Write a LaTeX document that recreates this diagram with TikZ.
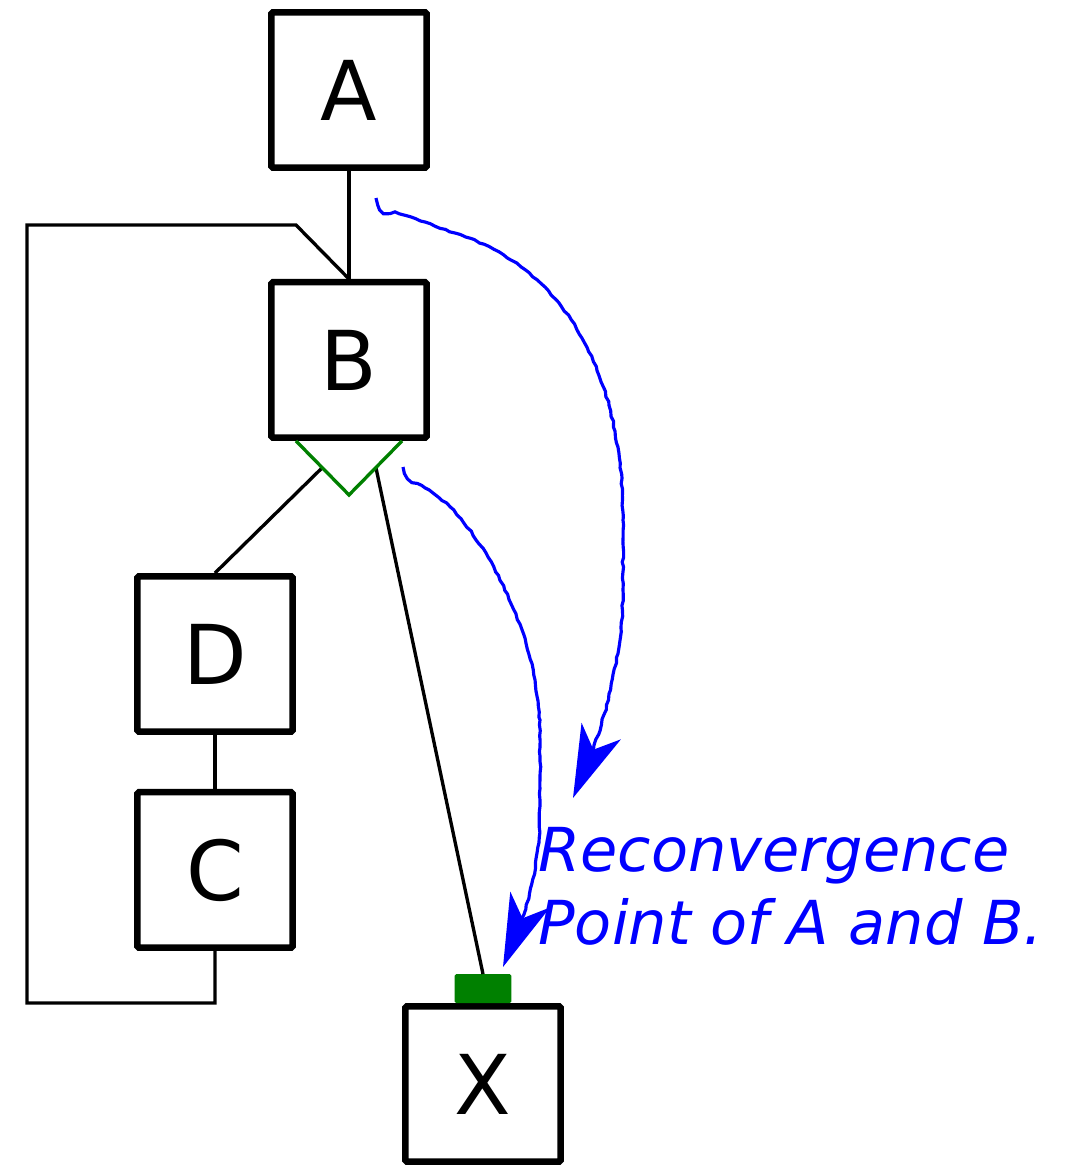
\documentclass[tikz,border=0pt]{standalone}
\usepackage{fontspec}
\setmainfont{DejaVu Sans}
\usetikzlibrary{arrows.meta,positioning,calc,decorations.pathmorphing}
\definecolor{FlowBlue}{RGB}{0,0,255}
\definecolor{SplitGreen}{RGB}{0,128,0}

\begin{document}
\begin{tikzpicture}[
    x=0.02cm, y=-0.02cm,
    node distance=2.16cm,
    blk/.style={draw,line width=3.7pt,rounded corners=1pt,minimum size=3.11cm,inner sep=0pt,font=\fontsize{47}{56}\selectfont},
    wire/.style={line width=1.9pt},
    split/.style={line width=1.9pt,draw=SplitGreen},
    flow/.style={line width=1.8pt,draw=FlowBlue,-{Stealth[length=1.45cm,width=0.85cm,inset=0.4cm]},
      decorate,decoration={random steps,segment length=3pt,amplitude=0.45pt,pre length=1pt,post length=26pt}}
  ]
  \pgfmathsetseed{11}
  \useasboundingbox (0,0) rectangle (1069,1167);

  \node[blk] (a) at (349,90) {A};
  \node[blk,below=of a] (b) {B};
  \node[blk] (d) at (215,654) {D};
  \node[blk,below=1.08cm of d] (c) {C};
  \node[blk] (x) at (483,1084) {X};
  \node[fill=SplitGreen,rounded corners=1pt,minimum width=1.14cm,minimum height=0.58cm,inner sep=0pt,outer sep=0pt,anchor=south] (xin) at (x.north) {};

  % plain edges
  \draw[wire] (a) -- (b);
  \draw[wire] (d) -- (c);
  \coordinate (loopw) at (27,1003);
  \coordinate (loopn) at (296,225);
  \draw[wire] (c.south) |- (loopw) |- (loopn) -- (b.north);

  % branch split under B
  \coordinate (bv) at ($(b.south)+(0,54)$);
  \coordinate (bl) at ($(b.south)+(-27,27)$);
  \coordinate (br) at ($(b.south)+(27,27)$);
  \draw[wire] (bl) -- (d.north);
  \draw[wire] (br) -- (xin.north);
  \draw[split] ($(b.south)+(-53,0)$) -- (bv) -- ($(b.south)+(53,0)$);

  % reconvergence arrows
  \coordinate (s1) at (376,198);
  \coordinate (t1) at (573,798);
  \coordinate (s2) at (403,467);
  \coordinate (t2) at (503,967);
  \draw[flow] (s1) .. controls (380,216) and (385,212) .. (395,212) -- (455,233)
    .. controls (570,270) and (623,380) .. (623,520) -- (623,590)
    .. controls (623,640) and (610,720) .. (t1);
  \draw[flow] (s2) .. controls (406,482) and (412,480) .. (425,488)
    .. controls (470,512) and (520,600) .. (535,680) -- (540,720) -- (540,800)
    .. controls (540,850) and (537,890) .. (t2);

  \node[anchor=north west,inner sep=0pt,align=left,text=FlowBlue,font=\fontsize{34.5}{41.4}\selectfont\itshape] (note) at (538,827) {Reconvergence\\Point of A and B.};
\end{tikzpicture}
\end{document}
